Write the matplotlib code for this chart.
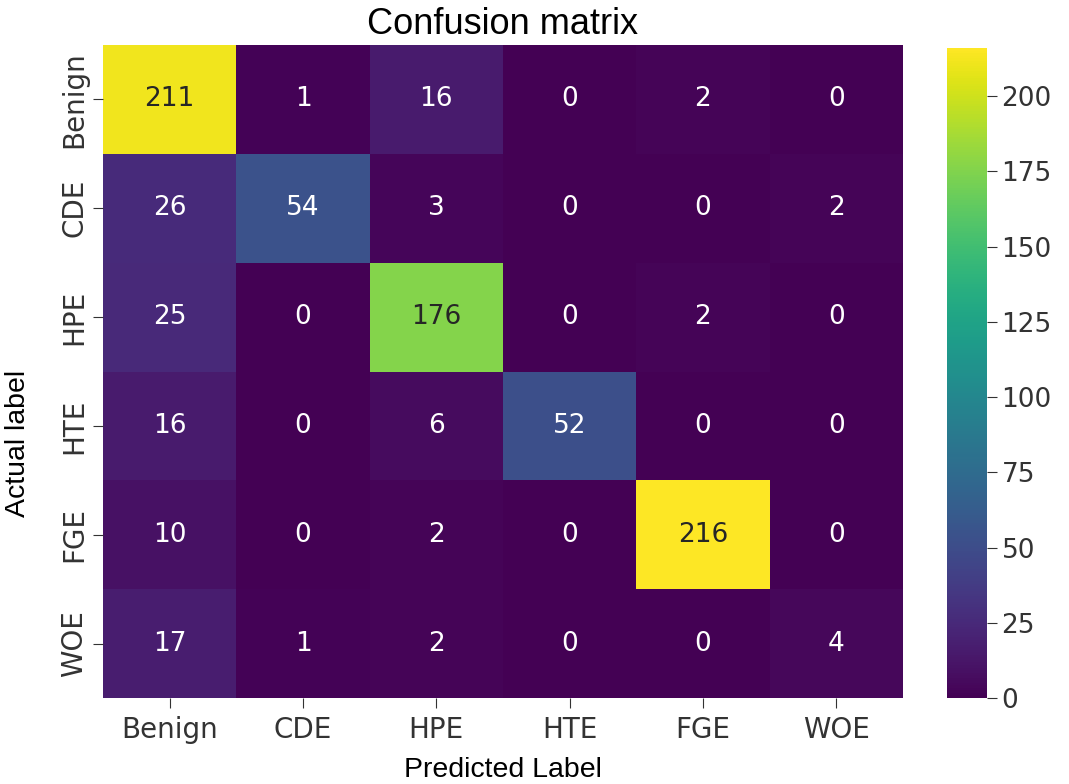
import numpy as np
import matplotlib
matplotlib.use('Agg')
import matplotlib.pyplot as plt
import seaborn as sns

# Class names and confusion counts (rows = actual, cols = predicted)
classes = ['Benign', 'CDE', 'HPE', 'HTE', 'FGE', 'WOE']
row_benign = [211, 1, 16, 0, 2, 0]
row_cde = [26, 54, 3, 0, 0, 2]
row_hpe = [25, 0, 176, 0, 2, 0]
row_hte = [16, 0, 6, 52, 0, 0]
row_fge = [10, 0, 2, 0, 216, 0]
row_woe = [17, 1, 2, 0, 0, 4]

cm = np.array([row_benign, row_cde, row_hpe, row_hte, row_fge, row_woe])

fig = plt.figure(figsize=(10.69, 7.84), dpi=100)
ax = fig.add_axes([103 / 1069, 1 - 698 / 784, 800 / 1069, 653 / 784])
cax = fig.add_axes([947 / 1069, 1 - 698 / 784, 40 / 1069, 650 / 784])

sns.heatmap(cm, annot=True, fmt='d', cmap='viridis', ax=ax, cbar_ax=cax,
            xticklabels=classes, yticklabels=classes,
            annot_kws={'size': 19, 'family': 'DejaVu Sans'})

for lbl in ax.get_xticklabels():
    lbl.set_fontsize(20)
for lbl in ax.get_yticklabels():
    lbl.set_fontsize(20)
    lbl.set_rotation(90)
    lbl.set_va('center')
ax.tick_params(axis='both', length=7, color='#333333', labelcolor='#333333')
ax.tick_params(axis='x', pad=6)

cax.set_yticks(np.arange(0, 201, 25))
cax.tick_params(labelsize=19, length=7, color='#333333', labelcolor='#333333')

ax.set_title('Confusion matrix', fontsize=26, family='Liberation Sans', pad=8)
ax.set_xlabel('Predicted Label', fontsize=20.5, family='Liberation Sans')
ax.xaxis.set_label_coords(0.5, -0.09)
ax.set_ylabel('Actual label', fontsize=20.5, family='Liberation Sans')
ax.yaxis.set_label_coords(-0.09, 0.39)

fig.savefig('out.png', dpi=100)
